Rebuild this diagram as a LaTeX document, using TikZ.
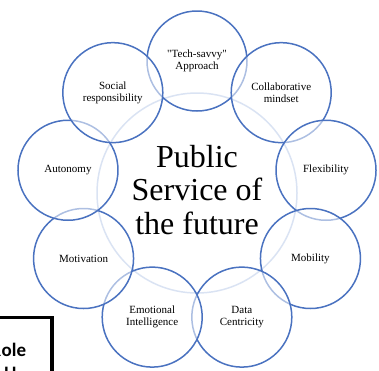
\documentclass[tikz,border=0pt]{standalone}
\usepackage{fontspec}
\setmainfont{Liberation Serif}[Ligatures=TeXOff]
\newfontfamily\boxfont{Carlito}
\definecolor{dblue}{HTML}{4A72C0}
\definecolor{lblue}{HTML}{AFC3E6}
\begin{document}
\begin{tikzpicture}[x=1pt,y=-1pt,
  small/.style={circle,draw=dblue,line width=1.5pt,minimum size=100pt,inner sep=0pt,
    fill=white,fill opacity=0.55,draw opacity=1,text opacity=1,align=center,
    font=\fontsize{11}{12.4}\selectfont},
  big/.style={circle,draw=lblue,line width=1.5pt,minimum size=200pt,inner sep=0pt},
  title/.style={anchor=base,inner sep=0pt,font=\fontsize{32}{33.5}\selectfont},
  boxtxt/.style={inner sep=0pt,font=\boxfont\bfseries\fontsize{19}{23}\selectfont}]
\useasboundingbox (0,0) rectangle (379,370);
\node[big] (c) at (197,193) {};
% small circles, clockwise from top
\node[small] (tech)  at ({197+131*cos(90)},{192-131*sin(90)}) {"Tech-savvy"\\Approach};
\node[small] (coll)  at ({197+131*cos(50)},{193-131*sin(50)}) {Collaborative\\mindset};
\node[small] (flex)  at ({197+131*cos(10)},{193-131*sin(10)}) {Flexibility};
\node[small] (mob)   at ({197+131*cos(-30)},{193-131*sin(-30)}) {Mobility};
\node[small] (data)  at ({197+131*cos(-70)},{194-131*sin(-70)}) {Data\\Centricity};
\node[small] (emo)   at ({197+131*cos(-110)},{194-131*sin(-110)}) {Emotional\\Intelligence};
\node[small] (mot)   at ({197+131*cos(-150)},{193-131*sin(-150)}) {Motivation};
\node[small] (aut)   at ({197+131*cos(170)},{193-131*sin(170)}) {Autonomy};
\node[small] (soc)   at ({197+131*cos(130)},{193-131*sin(130)}) {Social\\responsibility};
% central title
\node[title] (t1) at (197,167) {Public};
\node[title] (t2) at (197,200.5) {Service of};
\node[title] (t3) at (197,234) {the future};
% cropped box at bottom left
\draw[line width=3.5pt] (-40,317.5) -- (52,317.5) -- (52,400);
\node[boxtxt,anchor=base west] (ole) at (1.5,356) {ole};
\node[boxtxt,anchor=base east] (r) at (ole.base west) {R};
\node[boxtxt,anchor=base west] (l2) at (4,380) {l\kern3pt l};
\end{tikzpicture}
\end{document}
